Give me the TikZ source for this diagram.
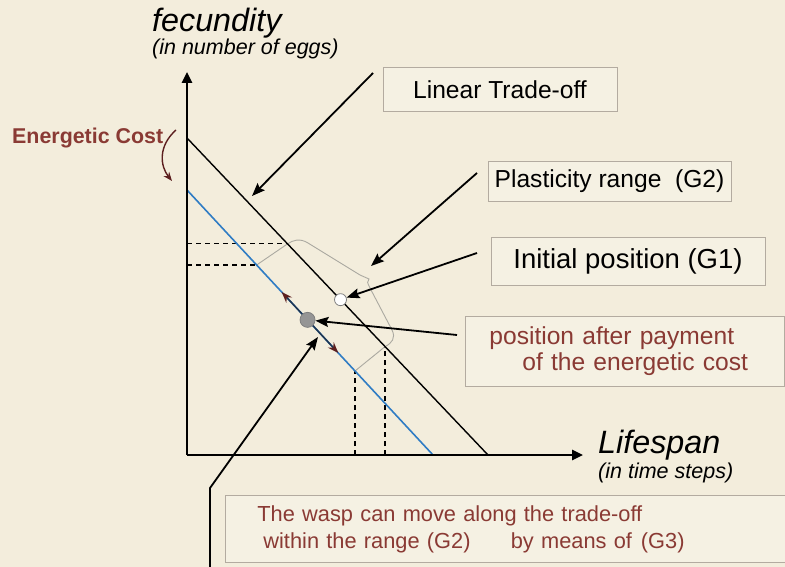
\documentclass[tikz,border=0pt]{standalone}
\usepackage{fontspec}
\setmainfont{Liberation Sans}
\usetikzlibrary{arrows.meta,calc}
\definecolor{Parchment}{HTML}{F3EDDC}
\definecolor{BoxLine}{HTML}{B3ABA0}
\definecolor{Brick}{HTML}{8A3A34}
\definecolor{Maroon}{HTML}{5C1F1F}
\definecolor{LineBlue}{HTML}{2F7CC4}
\definecolor{Navy}{HTML}{1F3550}
\definecolor{RedTip}{HTML}{C0281E}
\definecolor{Guide}{HTML}{ABA9A1}
\definecolor{Dot}{HTML}{959595}
\begin{document}
\begin{tikzpicture}[x=1pt,y=-1pt,
    callbox/.style={draw=BoxLine,fill=Parchment!80!white,line width=0.8pt,inner sep=0pt,font=\fontsize{24.6}{26}\selectfont},
    callout/.style={line width=1.8pt,-{Stealth[length=13pt,width=10pt,inset=2pt]}},
    guide/.style={draw=Guide,line width=0.9pt},
    drop/.style={dash pattern=on 5pt off 4pt,line width=1.2pt},
    slide/.style={{Stealth[length=11pt,width=8pt,color=Maroon,fill=RedTip]}-{Stealth[length=11pt,width=8pt,color=Maroon,fill=RedTip]}},
    axislabel/.style={font=\fontsize{32.3}{34}\selectfont\itshape,anchor=base west,inner sep=0pt},
    unitlabel/.style={font=\fontsize{21.5}{23}\selectfont\itshape,anchor=base west,inner sep=0pt}
  ]
    \path[use as bounding box,fill=Parchment] (0,0) rectangle (785,567);

    \coordinate (O) at (187,455);
    \coordinate (ytip) at (187,72);
    \coordinate (xtip) at (583,455);
    \coordinate (tradeA) at (187,138);
    \coordinate (tradeB) at (488,455);
    \coordinate (costA) at (187,190);
    \coordinate (costB) at (433,455);
    \coordinate (hiTop) at ($(tradeA)!0.334!(tradeB)$);
    \coordinate (hiBot) at ($(tradeA)!0.658!(tradeB)$);
    \coordinate (loTop) at ($(costA)!0.283!(costB)$);
    \coordinate (loBot) at ($(costA)!0.683!(costB)$);

    \draw[drop] (O |- hiTop) -- (hiTop);
    \draw[drop] (O |- loTop) -- (loTop);
    \draw[drop] (hiBot |- O) -- (hiBot);
    \draw[drop] (loBot |- O) -- (loBot);
    \draw[guide] (loTop) -- (hiTop);
    \draw[guide] (loBot) -- (hiBot);
    \draw[guide] (hiTop) .. controls (293,240) and (300,238) .. (308,243) -- (360,275)
      .. controls (364,277) .. (369,279) .. controls (367,282) .. (370,288) -- (392,330)
      .. controls (396,338) and (392,343) .. (hiBot);

    \draw[line width=1.4pt] (tradeA) -- (tradeB);
    \draw[LineBlue,line width=1.6pt] (costA) -- (costB);
    \draw[Navy,line width=1.5pt,slide] ($(costA)!0.385!(costB)$) -- ($(costA)!0.615!(costB)$);
    \draw[line width=2.6pt,-{Triangle[length=11pt,width=10pt]}] (O) -- (ytip);
    \draw[line width=2.6pt,-{Triangle[length=11pt,width=10pt]}] (O) -- (xtip);

    \node[circle,draw=gray,fill=white,line width=0.8pt,minimum size=12,inner sep=0pt] (start) at ($(tradeA)!0.51!(tradeB)$) {};
    \node[circle,draw=Dot!85!black,fill=Dot,line width=0.8pt,minimum size=15,inner sep=0pt] (paidpt) at ($(costA)!0.49!(costB)$) {};

    \node[axislabel] (fec) at (152,32) {fecundity};
    \node[unitlabel] (eggs) at (152,55) {(in number of eggs)};
    \node[axislabel] (life) at (598,453) {Lifespan};
    \node[unitlabel] (steps) at (598,478) {(in time steps)};
    \node[font=\bfseries\fontsize{21.4}{23}\selectfont,text=Brick,anchor=base west,inner sep=0pt] (energy) at (12,144) {Energetic Cost};

    \node[callbox,minimum width=234,minimum height=44] (trade) at (500,89.5) {Linear Trade-off};
    \node[callbox,minimum width=243,minimum height=40] (range) at (609.5,181) {Plasticity range\ \ (G2)};
    \node[callbox,minimum width=274,minimum height=48,font=\fontsize{27.5}{29}\selectfont] (init) at (628,261) {Initial position (G1)};
    \node[callbox,text=Brick,anchor=north west,minimum height=70,text width=271,inner xsep=24,align=left] (paid) at (465,316)
      {position after payment\\\hspace*{33pt}of the energetic cost};
    \node[callbox,text=Brick,anchor=north west,minimum height=67,text width=499,inner xsep=32,align=left,font=\fontsize{21.8}{27}\selectfont] (wasp) at (225,495)
      {The wasp can move along the trade-off\\\hspace*{6pt}within the range (G2)\hspace*{33pt} by means of\hspace*{9pt}(G3)};

    \coordinate (tradeTail) at (373,73);
    \coordinate (tradeTip) at (252,196);
    \coordinate (rangeTail) at (477,173);
    \coordinate (rangeTip) at (371,266);
    \coordinate (startTail) at (477,253);
    \coordinate (paidTail) at (457,335);
    \coordinate (waspFoot) at (210,570);
    \coordinate (waspBend) at (210,488);
    \coordinate (waspTip) at (318,337);
    \coordinate (costTail) at (176,130);
    \coordinate (costTip) at (172,181);

    \draw[callout] (tradeTail) -- (tradeTip);
    \draw[callout] (rangeTail) -- (rangeTip);
    \draw[callout] (startTail) -- (start);
    \draw[callout] (paidTail) -- (paidpt);
    \draw[callout] (waspFoot) -- (waspBend) -- (waspTip);
    \draw[Maroon,line width=1.4pt,-{Stealth[length=9pt,width=7pt]}] (costTail) .. controls (158,146) and (160,166) .. (costTip);
  \end{tikzpicture}
\end{document}
